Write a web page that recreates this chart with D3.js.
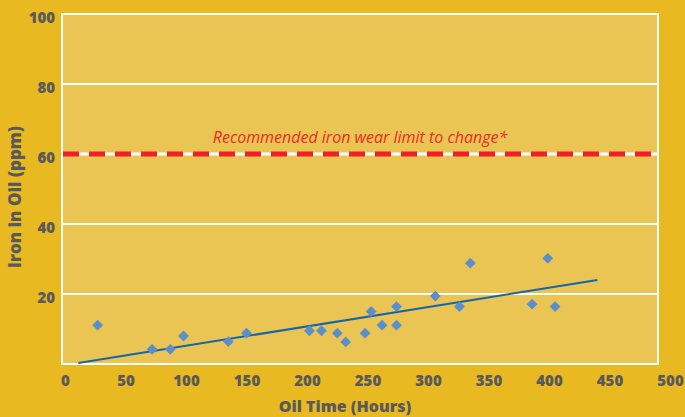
<!DOCTYPE html>
<html>
<head>
<meta charset="utf-8">
<script src="https://cdn.jsdelivr.net/npm/d3@7"></script>
<style>
  body { margin: 0; background: #e8b921; }
  text { font-family: "Open Sans", Lato, sans-serif; }
</style>
</head>
<body>
<div id="chart"></div>
<script>
// oil hours vs iron ppm
var hours = [27, 72, 87, 98, 135, 150, 202, 212, 225, 232, 248, 253, 262, 274, 274, 306, 326, 335, 386, 399, 405];
var iron = [11.1, 4.2, 4.2, 8.0, 6.4, 8.8, 9.5, 9.5, 8.8, 6.3, 8.8, 15, 11.1, 16.4, 11.1, 19.4, 16.4, 28.8, 17.1, 30.2, 16.4];

var trendX = [11, 440];
var trendY = [0.3, 24];

var limitValue = 60;
var limitLabel = "Recommended iron wear limit to change*";

var xTicks = [0, 50, 100, 150, 200, 250, 300, 350, 400, 450, 500];
var yTicks = [20, 40, 60, 80, 100];

var width = 685;
var height = 417;

var plot = { "left": 62, "right": 658, "top": 14, "bottom": 364 };

var svg = d3.select("#chart")
  .append("svg")
  .attr("width", width)
  .attr("height", height);

svg.append("rect")
  .attr("width", width)
  .attr("height", height)
  .attr("fill", "#e8b921");

var x_scale = d3.scaleLinear()
  .domain([0, 500])
  .range([65, 670]);

var y_scale = d3.scaleLinear()
  .domain([0, 100])
  .range([plot.bottom, plot.top]);

// plot area
svg.append("rect")
  .attr("x", plot.left)
  .attr("y", plot.top)
  .attr("width", plot.right - plot.left)
  .attr("height", plot.bottom - plot.top)
  .attr("fill", "#ebc553")
  .attr("stroke", "white")
  .attr("stroke-width", 2);

svg.selectAll(".grid")
  .data(yTicks)
  .enter()
  .append("line")
  .attr("class", "grid")
  .attr("x1", plot.left)
  .attr("x2", plot.right)
  .attr("y1", function(d) { return y_scale(d); })
  .attr("y2", function(d) { return y_scale(d); })
  .attr("stroke", "white")
  .attr("stroke-width", 2);

// axes (labels only)
var x_axis = d3.axisBottom(x_scale)
  .tickValues(xTicks)
  .tickSize(0)
  .tickPadding(0);

var y_axis = d3.axisLeft(y_scale)
  .tickValues(yTicks)
  .tickSize(0)
  .tickPadding(0);

var gx = svg.append("g")
  .attr("transform", "translate(0," + 386 + ")")
  .call(x_axis);

var gy = svg.append("g")
  .attr("transform", "translate(" + 55 + ",4)")
  .call(y_axis);

[gx, gy].forEach(function(g) {
  g.select(".domain").remove();
  g.selectAll("text")
    .attr("fill", "#595959")
    .style("font-size", "15px")
    .style("font-weight", "800");
});
gx.selectAll("text").attr("dy", 0);

// limit line
svg.append("line")
  .attr("x1", plot.left + 1)
  .attr("x2", plot.right - 1)
  .attr("y1", y_scale(limitValue))
  .attr("y2", y_scale(limitValue))
  .attr("stroke", "white")
  .attr("stroke-width", 3);

svg.append("line")
  .attr("x1", plot.left + 1)
  .attr("x2", plot.right - 1)
  .attr("y1", y_scale(limitValue))
  .attr("y2", y_scale(limitValue))
  .attr("stroke", "#ee1f25")
  .attr("stroke-width", 5)
  .attr("stroke-dasharray", "16,10");

svg.append("text")
  .attr("x", 360)
  .attr("y", y_scale(limitValue) - 11)
  .attr("text-anchor", "middle")
  .attr("fill", "#ee2a24")
  .style("font-size", "16px")
  .style("font-style", "italic")
  .text(limitLabel);

// trend line
var trend = trendX.map(function(d, i) { return [d, trendY[i]]; });
svg.append("path")
  .datum(trend)
  .attr("d", d3.line()
    .x(function(d) { return x_scale(d[0]); })
    .y(function(d) { return y_scale(d[1]); }))
  .attr("fill", "none")
  .attr("stroke", "#1665a9")
  .attr("stroke-width", 2);

// points
svg.selectAll(".sample")
  .data(hours)
  .enter()
  .append("path")
  .attr("class", "sample")
  .attr("d", d3.symbol().type(d3.symbolDiamond2).size(75))
  .attr("transform", function(d, i) {
    return "translate(" + x_scale(d) + "," + y_scale(iron[i]) + ")";
  })
  .attr("fill", "#5b8fcb");

// titles
svg.append("text")
  .attr("x", 345)
  .attr("y", 412)
  .attr("text-anchor", "middle")
  .attr("fill", "#595959")
  .style("font-size", "16px")
  .style("font-weight", "800")
  .text("Oil Time (Hours)");

svg.append("text")
  .attr("transform", "translate(21,197) rotate(-90)")
  .attr("text-anchor", "middle")
  .attr("fill", "#595959")
  .style("font-size", "17px")
  .style("font-weight", "800")
  .text("Iron in Oil (ppm)");
</script>
</body>
</html>
